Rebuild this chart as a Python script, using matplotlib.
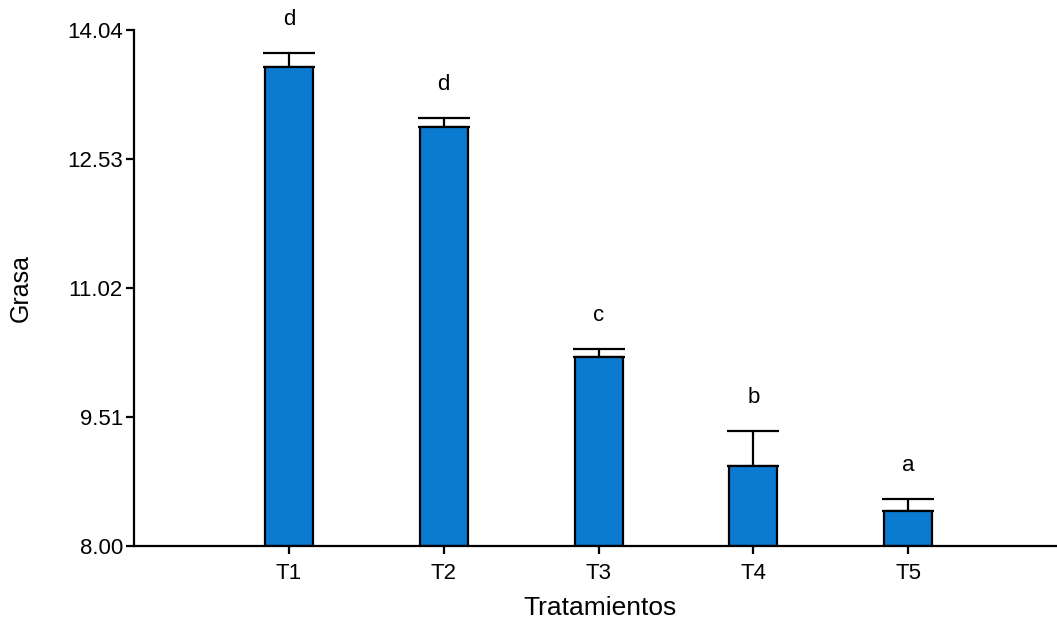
import matplotlib
matplotlib.use("Agg")
import matplotlib.pyplot as plt

plt.rcParams['font.family'] = ['Liberation Sans', 'DejaVu Sans']

categories = ["T1", "T2", "T3", "T4", "T5"]
means = [13.61, 12.91, 10.21, 8.94, 8.41]
errors = [0.16, 0.10, 0.10, 0.41, 0.14]
letters = ["d", "d", "c", "b", "a"]
yticks = [8.00, 9.51, 11.02, 12.53, 14.04]

fig = plt.figure(figsize=(10.57, 6.23), dpi=100)
ax = fig.add_axes([0.1268, 0.1236, 0.8732, 0.8282])

x = list(range(1, len(categories) + 1))
ax.bar(x, [m - 8.0 for m in means], bottom=8.0, width=0.31, color="#0A7AD0",
       edgecolor="black", linewidth=1.6, zorder=2)
ax.errorbar(x, means, yerr=[[0] * len(errors), errors], fmt="none",
            ecolor="black", elinewidth=1.6, capsize=18.5, capthick=1.6, zorder=1)

for xi, m, e, l in zip(x, means, errors, letters):
    ax.annotate(l, (xi, m + e), xytext=(0, 24), textcoords="offset points",
                ha="center", va="center", fontsize=16)

ax.set_xlim(0, 5.96)
ax.set_ylim(8.0, 14.04)
ax.set_xticks(x)
ax.set_xticklabels(categories, fontsize=16)
ax.set_yticks(yticks)
ax.set_yticklabels([f"{v:.2f}" for v in yticks], fontsize=16)

for s in ["top", "right"]:
    ax.spines[s].set_visible(False)
for s in ["left", "bottom"]:
    ax.spines[s].set_linewidth(1.6)
ax.tick_params(axis="both", direction="out", length=6, width=1.6, pad=2)
ax.tick_params(axis="x", pad=6)

ax.set_xlabel("Tratamientos", fontsize=19)
ax.set_ylabel("Grasa", fontsize=18)
ax.xaxis.set_label_coords((600 - 134) / 923, -(596 - 546) / 516)
ax.yaxis.set_label_coords(-(134 - 33) / 923, (546 - 288) / 516)

fig.savefig("out.png", dpi=100)
